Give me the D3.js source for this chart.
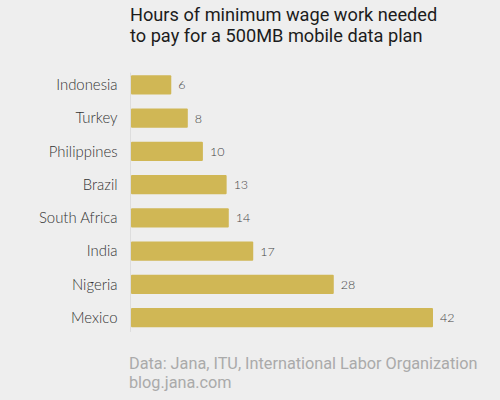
<!DOCTYPE html>
<html lang="en">
<head>
    <meta charset="UTF-8">
    <title>Hours of minimum wage work</title>
    <script src="https://d3js.org/d3.v7.min.js"></script>
    <style>
        html, body { margin: 0; padding: 0; background: #eeeeee; }
        svg { display: block; }
        .title { font-family: Roboto, sans-serif; font-size: 18.2px; fill: #1c1c1c; }
        .label { font-family: Lato, sans-serif; font-size: 14.9px; font-weight: 300; fill: #333; }
        .value { font-family: Lato, sans-serif; font-size: 12.5px; font-weight: 300; fill: #444; }
        .source { font-family: Roboto, sans-serif; font-size: 16.25px; fill: #aaa; }
    </style>
</head>
<body>
    <div id="chart"></div>
    <script>
        // Data (bar lengths, labels show them rounded)
        const countries = ["Indonesia", "Turkey", "Philippines", "Brazil", "South Africa", "India", "Nigeria", "Mexico"];
        const hours = [5.6, 7.9, 10, 13.3, 13.6, 17, 28.2, 42];
        const titleLines = ["Hours of minimum wage work needed", "to pay for a 500MB mobile data plan"];
        const sourceLines = ["Data: Jana, ITU, International Labor Organization", "blog.jana.com"];

        const width = 500;
        const height = 400;

        const svg = d3.select("#chart")
            .append("svg")
            .attr("width", width)
            .attr("height", height);

        // Scales
        const x = d3.scaleLinear().domain([0, 42]).range([131, 433]);
        const y = d3.scaleBand().domain(countries).range([68.65, 333.95]).paddingInner(0.42).paddingOuter(0.2);

        // Baseline
        svg.append("line")
            .attr("x1", x(0) - 0.5)
            .attr("x2", x(0) - 0.5)
            .attr("y1", y.range()[0] + 4)
            .attr("y2", y.range()[1] - 2)
            .attr("stroke", "#ddd");

        // Bars
        svg.selectAll("rect")
            .data(hours)
            .join("rect")
            .attr("x", x(0))
            .attr("y", (d, i) => y(countries[i]))
            .attr("width", d => x(d) - x(0))
            .attr("height", y.bandwidth())
            .attr("rx", 1)
            .attr("fill", "#d0b755");

        // Category labels
        svg.selectAll(".label")
            .data(countries)
            .join("text")
            .attr("class", "label")
            .attr("x", 117.5)
            .attr("y", d => y(d) + y.bandwidth() / 2)
            .attr("dy", "0.35em")
            .attr("text-anchor", "end")
            .text(d => d);

        // Value labels
        svg.selectAll(".value")
            .data(hours)
            .join("text")
            .attr("class", "value")
            .attr("x", d => x(d) + 7)
            .attr("y", (d, i) => y(countries[i]) + y.bandwidth() / 2)
            .attr("dy", "0.35em")
            .text(d => d3.format(".0f")(d));

        // Title
        svg.selectAll(".title")
            .data(titleLines)
            .join("text")
            .attr("class", "title")
            .attr("x", 130)
            .attr("y", (d, i) => 20.5 + i * 21)
            .text(d => d);

        // Source
        svg.selectAll(".source")
            .data(sourceLines)
            .join("text")
            .attr("class", "source")
            .attr("x", 129)
            .attr("y", (d, i) => 369 + i * 19)
            .text(d => d);
    </script>
</body>
</html>
